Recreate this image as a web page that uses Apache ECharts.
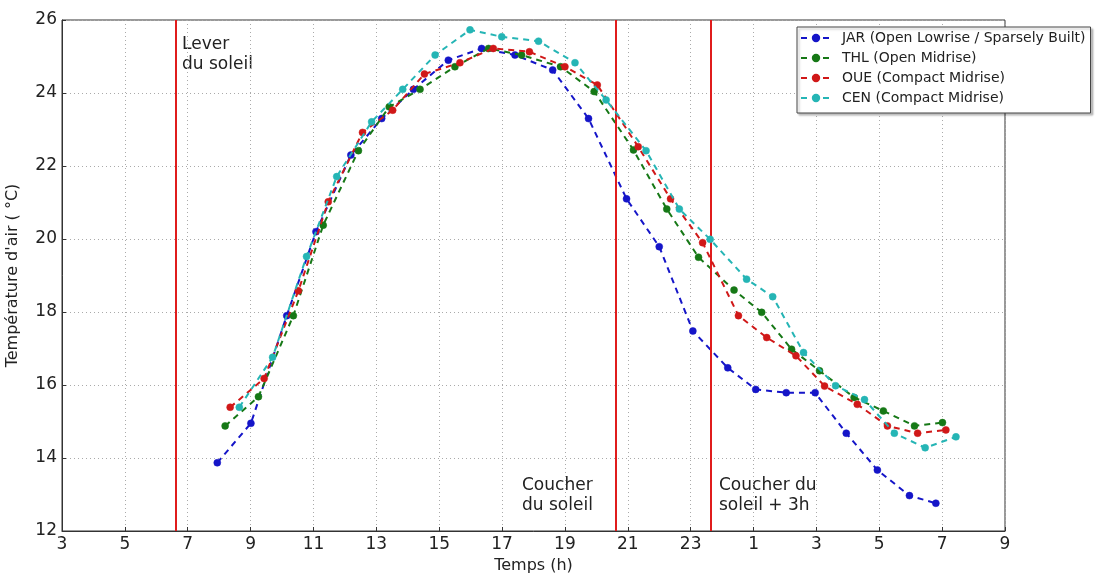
<!DOCTYPE html>
<html>
<head>
<meta charset="utf-8">
<script src="https://cdn.jsdelivr.net/npm/echarts@6/dist/echarts.min.js"></script>
<style>
  html, body { margin: 0; padding: 0; background: #fff; }
  #chart { width: 1096px; height: 576px; }
</style>
</head>
<body>
<div id="chart"></div>
<script>
// heures (au-delà de 24 = lendemain) et températures
var jarTime = [7.94, 9.01, 10.15, 11.08, 12.19, 13.17, 14.18, 15.29, 16.35, 17.41, 18.61, 19.75, 20.96, 22.0, 23.07, 24.18, 25.07, 26.04, 26.96, 27.95, 28.94, 29.96, 30.8]
var jarTemp = [13.87, 14.95, 17.9, 20.2, 22.3, 23.3, 24.1, 24.9, 25.22, 25.04, 24.63, 23.3, 21.1, 19.79, 17.48, 16.47, 15.88, 15.79, 15.79, 14.68, 13.67, 12.97, 12.76]

var thlTime = [8.19, 9.25, 10.36, 11.31, 12.43, 13.41, 14.39, 15.5, 16.57, 17.62, 18.86, 19.93, 21.18, 22.24, 23.25, 24.38, 25.26, 26.21, 27.1, 28.2, 29.13, 30.12, 31.01]
var thlTemp = [14.88, 15.68, 17.9, 20.38, 22.42, 23.62, 24.1, 24.72, 25.22, 25.04, 24.72, 24.04, 22.44, 20.82, 19.5, 18.6, 17.99, 16.98, 16.39, 15.66, 15.29, 14.88, 14.97]

var oueTime = [8.35, 9.43, 10.52, 11.47, 12.56, 13.52, 14.53, 15.66, 16.72, 17.87, 19.0, 20.03, 21.33, 22.36, 23.38, 24.52, 25.42, 26.35, 27.26, 28.3, 29.26, 30.22, 31.12]
var oueTemp = [15.39, 16.18, 18.58, 21.02, 22.92, 23.53, 24.52, 24.83, 25.22, 25.13, 24.72, 24.22, 22.53, 21.1, 19.9, 17.9, 17.3, 16.8, 15.97, 15.47, 14.88, 14.68, 14.77]

var cenTime = [8.64, 9.7, 10.78, 11.74, 12.85, 13.84, 14.87, 15.98, 16.99, 18.16, 19.32, 20.31, 21.58, 22.64, 23.62, 24.78, 25.61, 26.59, 27.61, 28.53, 29.48, 30.46, 31.44]
var cenTemp = [15.39, 16.76, 19.52, 21.71, 23.21, 24.1, 25.04, 25.73, 25.54, 25.42, 24.83, 23.81, 22.42, 20.82, 19.99, 18.9, 18.42, 16.89, 15.98, 15.6, 14.68, 14.28, 14.58]

var seriesNames = [
  'JAR (Open Lowrise / Sparsely Built)',
  'THL (Open Midrise)',
  'OUE (Compact Midrise)',
  'CEN (Compact Midrise)'
]
var seriesColors = ['#1515c8', '#167816', '#d01818', '#25b5b5']
var sunLines = [6.63, 20.63, 23.63]

function pairs(t, v) {
  return t.map(function (x, i) { return [x, v[i]] })
}

var stations = [
  pairs(jarTime, jarTemp),
  pairs(thlTime, thlTemp),
  pairs(oueTime, oueTemp),
  pairs(cenTime, cenTemp)
]

var series = stations.map(function (d, i) {
  return {
    name: seriesNames[i],
    type: 'line',
    data: d,
    symbol: 'circle',
    symbolSize: 7,
    showSymbol: true,
    animation: false,
    lineStyle: { color: seriesColors[i], width: 2, type: [6, 5] },
    itemStyle: { color: seriesColors[i], borderColor: seriesColors[i], borderWidth: 0.5 },
    z: 3 + i
  }
})

// lignes verticales rouges (lever / coucher du soleil)
series.push({
  type: 'line',
  data: [],
  silent: true,
  animation: false,
  markLine: {
    symbol: 'none',
    silent: true,
    label: { show: false },
    lineStyle: { color: '#e01c1c', width: 2, type: 'solid' },
    data: sunLines.map(function (h) { return { xAxis: h } })
  }
})

var chart = echarts.init(document.getElementById('chart'))
var txt = { fontFamily: 'DejaVu Sans', fontSize: 17, fill: '#222', lineHeight: 20 }

chart.setOption({
  animation: false,
  textStyle: { fontFamily: 'DejaVu Sans' },
  grid: {
    left: 62, right: 91, top: 20, bottom: 45,
    outerBoundsMode: 'none',
    show: true, borderColor: '#333', borderWidth: 1, backgroundColor: '#fff'
  },
  legend: {
    data: seriesNames,
    orient: 'vertical',
    left: 797, top: 27,
    itemWidth: 30, itemHeight: 8, itemGap: 6,
    padding: [4, 5, 8, 3],
    backgroundColor: '#fff',
    borderColor: '#444', borderWidth: 1,
    shadowColor: 'rgba(0,0,0,0.25)', shadowOffsetX: 2, shadowOffsetY: 2, shadowBlur: 2,
    textStyle: { fontFamily: 'DejaVu Sans', fontSize: 14, lineHeight: 14, color: '#222', padding: [0, 0, 0, 6] },
    z: 20
  },
  xAxis: {
    type: 'value',
    min: 3, max: 33, interval: 2,
    name: 'Temps (h)',
    nameLocation: 'middle',
    nameGap: 26,
    nameTextStyle: { fontSize: 16, color: '#222', fontFamily: 'DejaVu Sans' },
    axisLine: { show: true, lineStyle: { color: '#333' } },
    axisTick: { inside: true, length: 4, lineStyle: { color: '#333' } },
    axisLabel: {
      fontSize: 17, color: '#222', margin: 5,
      formatter: function (v) { return String(v % 24) }
    },
    splitLine: { show: true, lineStyle: { color: '#aaa', type: [1, 3] } }
  },
  yAxis: {
    type: 'value',
    min: 12, max: 26, interval: 2,
    name: "Température d'air ( °C)",
    nameLocation: 'middle',
    nameGap: 41,
    nameTextStyle: { fontSize: 16, color: '#222', fontFamily: 'DejaVu Sans' },
    axisLine: { show: true, lineStyle: { color: '#333' } },
    axisTick: { inside: true, length: 4, lineStyle: { color: '#333' } },
    axisLabel: { fontSize: 17, color: '#222', margin: 5 },
    splitLine: { show: true, lineStyle: { color: '#aaa', type: [1, 3] } }
  },
  series: series,
  graphic: [
    { type: 'text', left: 182, top: 35, style: Object.assign({ text: 'Lever\ndu soleil' }, txt) },
    { type: 'text', left: 522, top: 476, style: Object.assign({ text: 'Coucher\ndu soleil' }, txt) },
    { type: 'text', left: 719, top: 476, style: Object.assign({ text: 'Coucher du\nsoleil + 3h' }, txt) }
  ]
})
</script>
</body>
</html>
